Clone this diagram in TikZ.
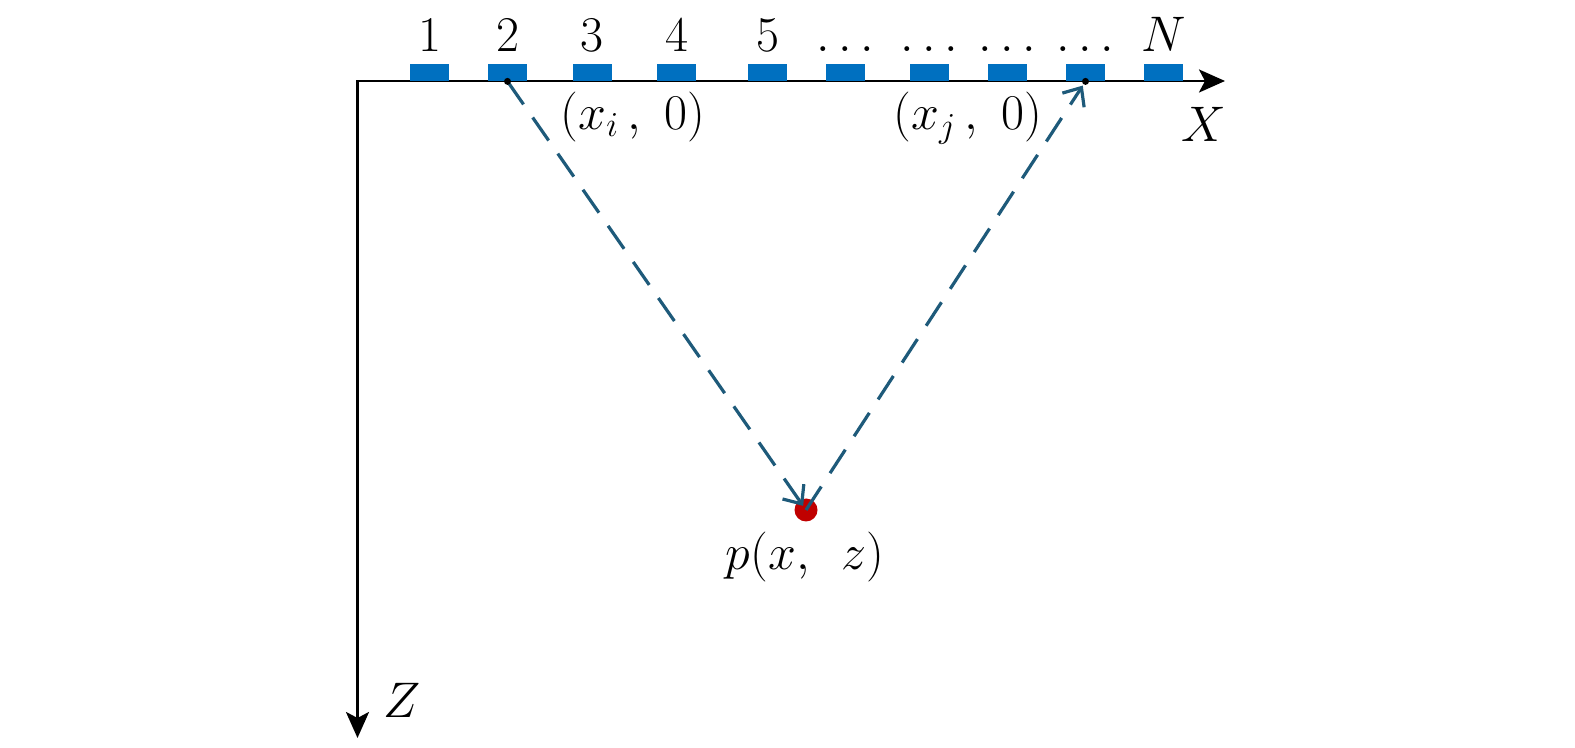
\RequirePackage{fix-cm}
\documentclass[tikz,border=0pt]{standalone}
\usetikzlibrary{arrows.meta}
\definecolor{sensorblue}{RGB}{0,112,192}
\definecolor{raycolor}{RGB}{30,90,122}
\definecolor{ptred}{RGB}{192,0,0}
\begin{document}
\begin{tikzpicture}[x=0.5pt,y=-0.5pt,
  lbl/.style={font=\fontsize{25}{30}\selectfont, inner sep=0pt, anchor=base},
  sensor/.style={fill=sensorblue, draw=none, rectangle, inner sep=0pt, minimum width=19.5pt, minimum height=8.5pt},
  axis/.style={line width=1.4pt, {Stealth[length=13pt,width=11.5pt,inset=3pt]}-{Stealth[length=13pt,width=11.5pt,inset=3pt]}},
  ray/.style={raycolor, line width=1.6pt, dash pattern=on 14pt off 8pt, -{Straight Barb[length=7.5pt,width=13pt]}, shorten >=2.5pt},
  target/.style={circle, fill=ptred, minimum size=11.5pt, inner sep=0pt},
  sdot/.style={circle, fill=black, minimum size=3.5pt, inner sep=0pt}]
\useasboundingbox (0,0) rectangle (1575,748);
% axes
\coordinate (O) at (357.5,81);
\coordinate (Xend) at (1225,81);
\coordinate (Zend) at (357.5,738);
\draw[axis] (Xend) -- (O) -- (Zend);
% sensors and their labels
\foreach \cx/\t [count=\k] in {429.5/1,507.5/2,592/3,676.5/4,767.5/5,845.5/\dots,929.5/\dots,1007.5/\dots,1085.5/\dots,1163.5/N}{
  \node[sensor] (s\k) at (\cx,72.5) {};
  \node[lbl] (n\k) at (\cx,52) {$\t$};
}
\coordinate (xi) at (s2.south);
\coordinate (xj) at (s9.south);
% target point
\node[target] (P) at (806,510) {};
% rays
\draw[ray] (xi) -- (P.center);
\draw[ray] (P.center) -- (xj);
\node[sdot] (di) at (xi) {};
\node[sdot] (dj) at (xj) {};
% labels
\node[lbl] (lxi) at (633,129.5) {$(x_i\,,\ 0)$};
\node[lbl] (lxj) at (968,130) {$(x_j\,,\ 0)$};
\node[lbl] (lX) at (1204,142) {$X$};
\node[lbl] (lZ) at (402,717) {$Z$};
\node[lbl] (lP) at (805,569) {$p(x,\ \,z)$};
\end{tikzpicture}
\end{document}
